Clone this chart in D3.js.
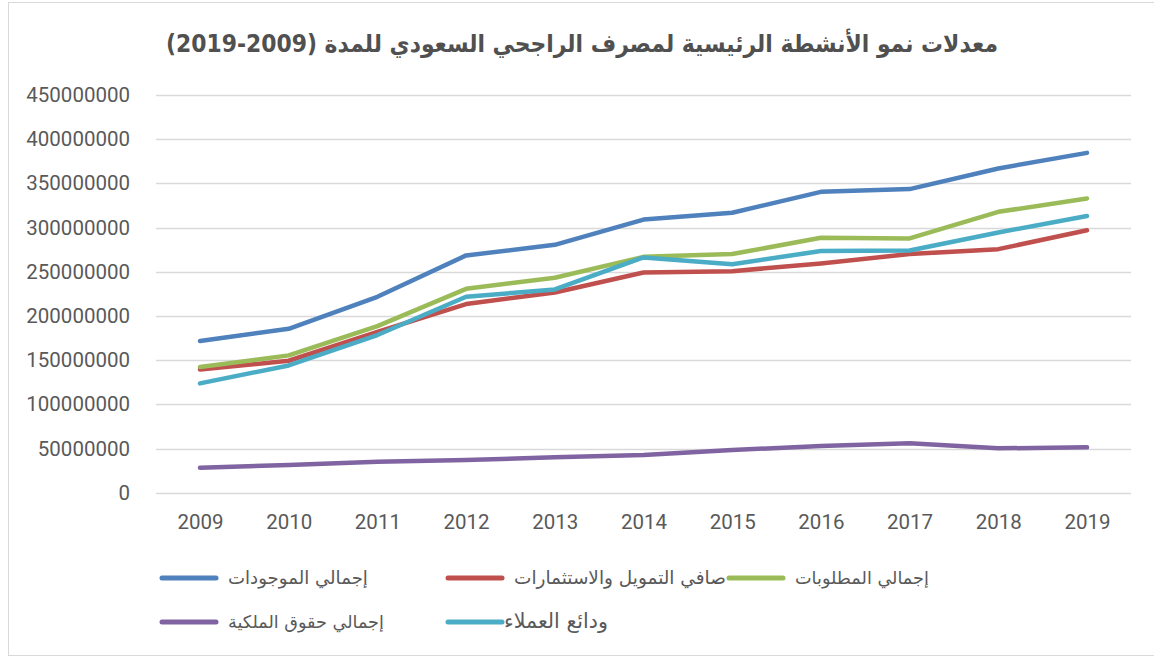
<!DOCTYPE html>
<html>
<head>
<meta charset="utf-8">
<script src="https://cdn.jsdelivr.net/npm/d3@7"></script>
<style>
  body { margin: 0; background: #fff; }
  svg { display: block; }
</style>
</head>
<body>
<div id="chart"></div>
<script>
// values
const years = ["2009", "2010", "2011", "2012", "2013", "2014", "2015", "2016", "2017", "2018", "2019"]
const totalAssets = [171600000, 185500000, 221700000, 268500000, 280500000, 309000000, 316700000, 340400000, 343500000, 366900000, 384500000]
const netFinancing = [139500000, 149300000, 182000000, 213400000, 226600000, 249200000, 250700000, 259400000, 270000000, 275600000, 297000000]
const totalLiabilities = [142200000, 155400000, 188500000, 230700000, 243200000, 266900000, 270000000, 288400000, 287700000, 317800000, 333000000]
const totalEquity = [28300000, 31300000, 35000000, 37000000, 40000000, 42600000, 48300000, 52800000, 55900000, 50200000, 51300000]
const customerDeposits = [123700000, 144000000, 178400000, 221700000, 230000000, 266200000, 258600000, 273400000, 274100000, 294500000, 313000000]
const yTicks = [0, 50000000, 100000000, 150000000, 200000000, 250000000, 300000000, 350000000, 400000000, 450000000]

const seriesNames = ["إجمالي الموجودات", "صافي التمويل والاستثمارات", "إجمالي المطلوبات", "إجمالي حقوق الملكية", "ودائع العملاء"]
const seriesColors = ["#4F81BD", "#C0504D", "#9BBB59", "#8064A2", "#4BACC6"]
const seriesValues = [totalAssets, netFinancing, totalLiabilities, totalEquity, customerDeposits]
const title = "معدلات نمو الأنشطة الرئيسية لمصرف الراجحي السعودي للمدة (2009-2019)"

const W = 1154, H = 657
const svg = d3.select("#chart").append("svg")
  .attr("width", W).attr("height", H)

// chart frame
svg.append("rect")
  .attr("x", 8.5).attr("y", 2.5)
  .attr("width", 1160).attr("height", 653)
  .attr("fill", "#fff")
  .attr("stroke", "#d9d9d9")

const plot = {left: 156, right: 1131, top: 95, bottom: 492.7}

const x = d3.scalePoint()
  .domain(years)
  .range([200, 1087])

const y = d3.scaleLinear()
  .domain([0, 450000000])
  .range([plot.bottom, plot.top])

// gridlines
svg.append("g")
  .selectAll("line")
  .data(yTicks)
  .join("line")
  .attr("x1", plot.left).attr("x2", plot.right)
  .attr("y1", d => Math.round(y(d)) + 0.5)
  .attr("y2", d => Math.round(y(d)) + 0.5)
  .attr("stroke", "#d9d9d9")
  .attr("stroke-width", 1.3)

// y axis labels
const yAxis = svg.append("g")
  .attr("transform", "translate(" + (plot.left - 16) + ",0)")
  .call(d3.axisLeft(y).tickValues(yTicks).tickFormat(d3.format("d")).tickSize(0).tickPadding(10))
yAxis.select(".domain").remove()
yAxis.selectAll("text")
  .style("font", "20.5px Roboto")
  .attr("fill", "#595959")

// x axis labels
const xAxis = svg.append("g")
  .attr("transform", "translate(0," + plot.bottom + ")")
  .call(d3.axisBottom(x).tickSize(0).tickPadding(22))
xAxis.select(".domain").remove()
xAxis.selectAll("text")
  .style("font", "20.5px Roboto")
  .attr("fill", "#595959")

// lines
const line = d3.line()
  .x((d, i) => x(years[i]))
  .y(d => y(d))

svg.append("g")
  .selectAll("path")
  .data(seriesValues)
  .join("path")
  .attr("d", d => line(d))
  .attr("fill", "none")
  .attr("stroke", (d, i) => seriesColors[i])
  .attr("stroke-width", 4.5)
  .attr("stroke-linejoin", "round")
  .attr("stroke-linecap", "round")

// title
const t = svg.append("text")
  .attr("x", 582)
  .attr("y", 52)
  .attr("text-anchor", "middle")
  .attr("direction", "rtl")
  .style("font", "bold 24px 'DejaVu Sans Condensed', 'DejaVu Sans'")
  .attr("fill", "#505050")
  .text(title)
// fit to the width it has in the picture
const tw = t.node().getComputedTextLength()
t.style("font-size", (24 * 832 / tw) + "px")

// legend
const legendPos = [
  {lx: 162, ly: 578, tw: 140},
  {lx: 448, ly: 578, tw: 212},
  {lx: 729, ly: 578, tw: 134},
  {lx: 162, ly: 622, tw: 156},
  {lx: 448, ly: 622, tw: 104}
]
const leg = svg.append("g")
  .selectAll("g")
  .data(seriesNames)
  .join("g")
  .attr("transform", (d, i) => "translate(" + legendPos[i].lx + "," + legendPos[i].ly + ")")

leg.append("line")
  .attr("x1", 0).attr("x2", 54)
  .attr("stroke", (d, i) => seriesColors[i])
  .attr("stroke-width", 5)
  .attr("stroke-linecap", "round")

leg.append("text")
  .attr("x", (d, i) => i == 4 ? 56 : 66)
  .attr("y", 6)
  .style("font", "17px 'DejaVu Sans'")
  .attr("fill", "#595959")
  .text(d => d)
  .each(function (d, i) {
    const w = this.getComputedTextLength()
    d3.select(this).style("font-size", (17 * legendPos[i].tw / w) + "px")
  })
</script>
</body>
</html>
